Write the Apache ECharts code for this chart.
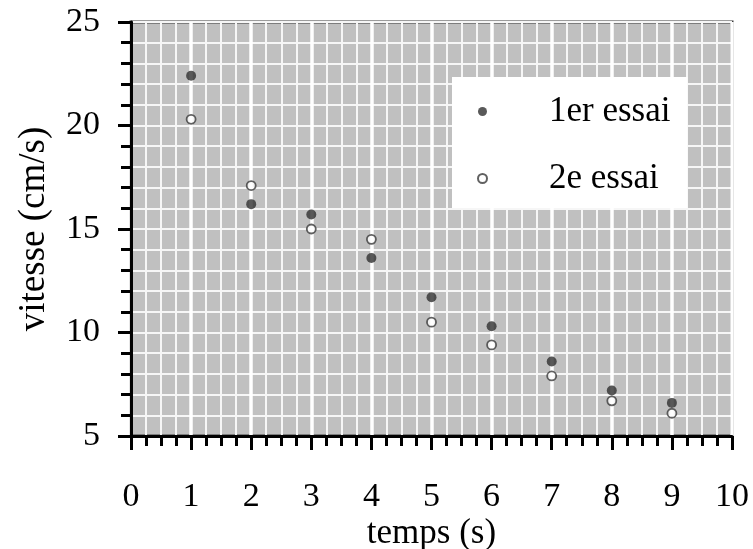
<!DOCTYPE html>
<html>
<head>
<meta charset="utf-8">
<script src="https://cdn.jsdelivr.net/npm/echarts@6/dist/echarts.min.js"></script>
<style>
  html, body { margin: 0; padding: 0; background: #fff; }
  #chart { width: 753px; height: 549px; }
</style>
</head>
<body>
<div id="chart"></div>
<script>
// Temps des mesures (s)
const temps = [1, 2, 3, 4, 5, 6, 7, 8, 9];
// Vitesse mesurée lors du premier essai (cm/s)
const essai1 = [22.4, 16.2, 15.7, 13.6, 11.7, 10.3, 8.6, 7.2, 6.6];
// Vitesse mesurée lors du second essai (cm/s)
const essai2 = [20.3, 17.1, 15.0, 14.5, 10.5, 9.4, 7.9, 6.7, 6.1];
const nomsSeries = ['1er essai', '2e essai'];

const serif = '"Liberation Serif", "Times New Roman", serif';

const chart = echarts.init(document.getElementById('chart'));
chart.setOption({
  animation: false,
  backgroundColor: '#ffffff',
  textStyle: { fontFamily: serif, color: '#000' },
  grid: {
    left: 131, right: 21, top: 22, bottom: 113,
    outerBoundsMode: 'none',
    containLabel: false,
    show: true,
    backgroundColor: '#c0c0c0',
    borderColor: '#3a3a3a',
    borderWidth: 3
  },
  legend: {
    left: 452, top: 77,
    orient: 'vertical',
    backgroundColor: '#ffffff',
    padding: [17, 17, 12, 25],
    itemGap: 32,
    itemWidth: 9,
    itemHeight: 9,
    textStyle: {
      fontFamily: serif, fontSize: 35, color: '#000',
      lineHeight: 30, padding: [0, 0, 0, 57]
    },
    data: nomsSeries
  },
  xAxis: {
    type: 'value', min: 0, max: 10, interval: 1,
    name: 'temps (s)', nameLocation: 'middle', nameGap: 80,
    nameMoveOverlap: false,
    nameTextStyle: { fontFamily: serif, fontSize: 35, color: '#000' },
    axisLine: { show: true, onZero: false, lineStyle: { color: '#000', width: 3 } },
    axisTick: { show: true, length: 14, lineStyle: { color: '#000', width: 3 } },
    minorTick: { show: true, splitNumber: 4, length: 10, lineStyle: { color: '#000', width: 3 } },
    axisLabel: { fontFamily: serif, fontSize: 34, color: '#000', margin: 44 },
    splitLine: { show: true, lineStyle: { color: '#ffffff', width: 3.5 } },
    minorSplitLine: { show: true, lineStyle: { color: '#f6f6f6', width: 2 } }
  },
  yAxis: {
    type: 'value', min: 5, max: 25, interval: 5,
    name: 'vitesse (cm/s)', nameLocation: 'middle', nameGap: 78,
    nameMoveOverlap: false,
    nameTextStyle: { fontFamily: serif, fontSize: 37, color: '#000' },
    axisLine: { show: true, onZero: false, lineStyle: { color: '#000', width: 3 } },
    axisTick: { show: true, length: 13, lineStyle: { color: '#000', width: 3 } },
    minorTick: { show: true, splitNumber: 5, length: 10, lineStyle: { color: '#000', width: 3 } },
    axisLabel: { fontFamily: serif, fontSize: 34, color: '#000', margin: 31 },
    splitLine: { show: true, lineStyle: { color: '#f6f6f6', width: 2 } },
    minorSplitLine: { show: true, lineStyle: { color: '#f6f6f6', width: 2 } }
  },
  series: [
    {
      name: nomsSeries[0],
      type: 'scatter',
      symbol: 'circle',
      symbolSize: 10,
      itemStyle: { color: '#2f2f2f' },
      data: temps.map((t, i) => [t, essai1[i]])
    },
    {
      name: nomsSeries[1],
      type: 'scatter',
      symbol: 'circle',
      symbolSize: 9,
      itemStyle: { color: '#ffffff', borderColor: '#3a3a3a', borderWidth: 1.8 },
      data: temps.map((t, i) => [t, essai2[i]])
    }
  ]
});
</script>
</body>
</html>
